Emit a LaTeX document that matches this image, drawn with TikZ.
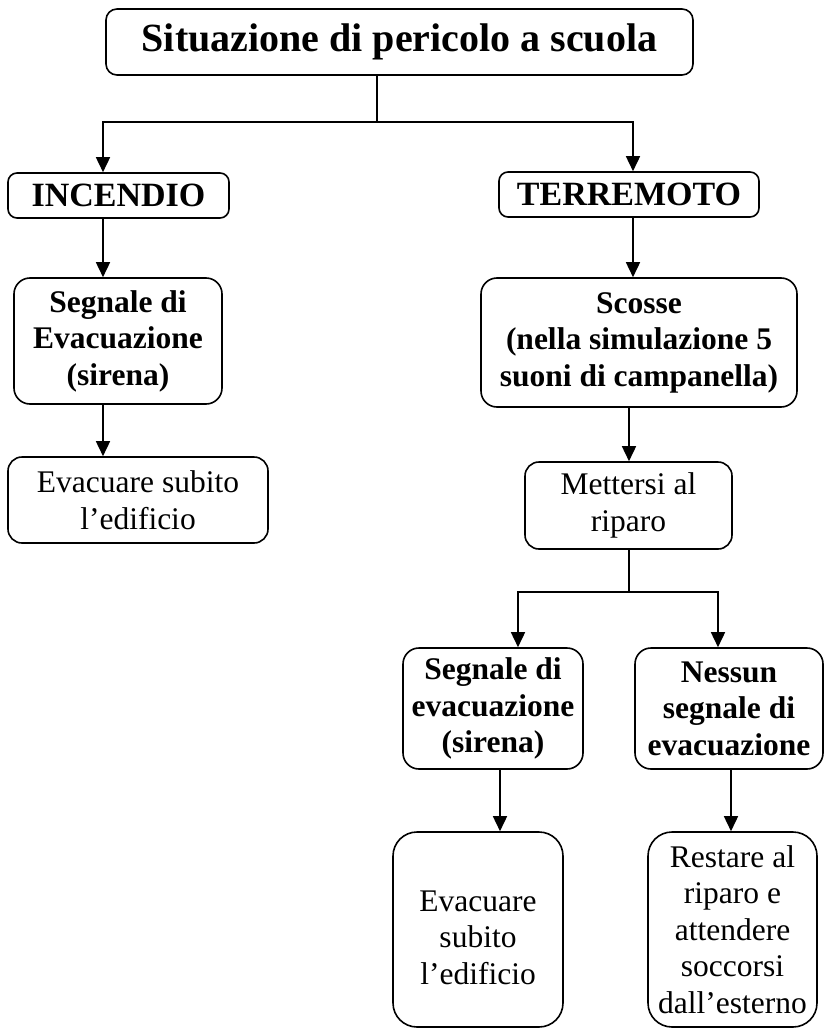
\documentclass[tikz,border=0pt]{standalone}
\usepackage{fontspec}
\setmainfont{Liberation Serif}
\usetikzlibrary{arrows.meta}

\newcommand{\titlefont}{\fontsize{40}{46}\selectfont\bfseries}
\newcommand{\headfont}{\fontsize{34}{39}\selectfont\bfseries}
\newcommand{\bodyfont}{\fontsize{31.5}{36.5}\selectfont}

\tikzset{
  box/.style={draw, line width=1.6pt, rounded corners=16pt, align=center, inner sep=2pt, font=\bodyfont},
  boldbox/.style={box, font=\bodyfont\bfseries},
  headbox/.style={box, rounded corners=9pt, font=\headfont},
  link/.style={line width=1.6pt},
  arrow/.style={link, -{Triangle[length=15pt,width=14pt]}},
}

\begin{document}
\begin{tikzpicture}[x=1pt, y=-1pt]
        \useasboundingbox (0,0) rectangle (825,1030);

        \node[box, rounded corners=11pt, font=\titlefont, minimum width=587pt, minimum height=66pt] at (399.5, 42)(title){Situazione di pericolo a scuola};
        \node[headbox, minimum width=221pt, minimum height=45pt] at (118.5, 195.5)(incendio){INCENDIO};
        \node[headbox, minimum width=260pt, minimum height=45pt] at (629, 194.5)(terremoto){TERREMOTO};
        \node[boldbox, minimum width=208pt, minimum height=126pt] at (118, 341)(segnaleL){Segnale di\\Evacuazione\\(sirena)};
        \node[box, rounded corners=14pt, minimum width=260pt, minimum height=86pt] at (138, 500)(evacuaL){Evacuare subito\\l’edificio};
        \node[boldbox, minimum width=316pt, minimum height=129pt] at (639, 342.5)(scosse){Scosse\\(nella simulazione 5\\suoni di campanella)};
        \node[box, rounded corners=14pt, minimum width=207pt, minimum height=87pt] at (628.5, 505.5)(riparo){Mettersi al\\riparo};
        \node[boldbox, minimum width=180pt, minimum height=121pt] at (493, 708.5)(segnaleR){Segnale di\\evacuazione\\(sirena)};
        \node[boldbox, minimum width=188pt, minimum height=121pt] at (729, 708.5)(nessun){Nessun\\segnale di\\evacuazione};
        \node[box, rounded corners=24pt, minimum width=170pt, minimum height=195pt] at (478, 929.5)(evacuaR){\mbox{}\\Evacuare\\subito\\l’edificio};
        \node[box, rounded corners=24pt, minimum width=169pt, minimum height=195pt] at (732.5, 929.5)(restare){Restare al\\riparo e\\attendere\\soccorsi\\dall’esterno};

        % branch points and arrow lanes
        \coordinate (fork1) at (377, 122);
        \coordinate (fork2) at (629, 592);
        \coordinate (laneA) at (103, 0);
        \coordinate (laneB) at (633, 0);
        \coordinate (laneC) at (629, 0);
        \coordinate (laneD) at (518, 0);
        \coordinate (laneE) at (500, 0);
        \coordinate (laneF) at (718, 0);
        \coordinate (laneG) at (731, 0);

        \draw[link] (title.south -| fork1) -- (fork1);
        \draw[arrow] (fork1) -| (incendio.north -| laneA);
        \draw[arrow] (fork1) -| (terremoto.north -| laneB);
        \draw[link] (riparo.south -| fork2) -- (fork2);
        \draw[arrow] (fork2) -| (segnaleR.north -| laneD);
        \draw[arrow] (fork2) -| (nessun.north -| laneF);

        \path[arrow]
        (incendio.south -| laneA) edge (segnaleL.north -| laneA)
        (segnaleL.south -| laneA) edge (evacuaL.north -| laneA)
        (terremoto.south -| laneB) edge (scosse.north -| laneB)
        (scosse.south -| laneC) edge (riparo.north -| laneC)
        (segnaleR.south -| laneE) edge (evacuaR.north -| laneE)
        (nessun.south -| laneG) edge (restare.north -| laneG)
        ;
\end{tikzpicture}
\end{document}
